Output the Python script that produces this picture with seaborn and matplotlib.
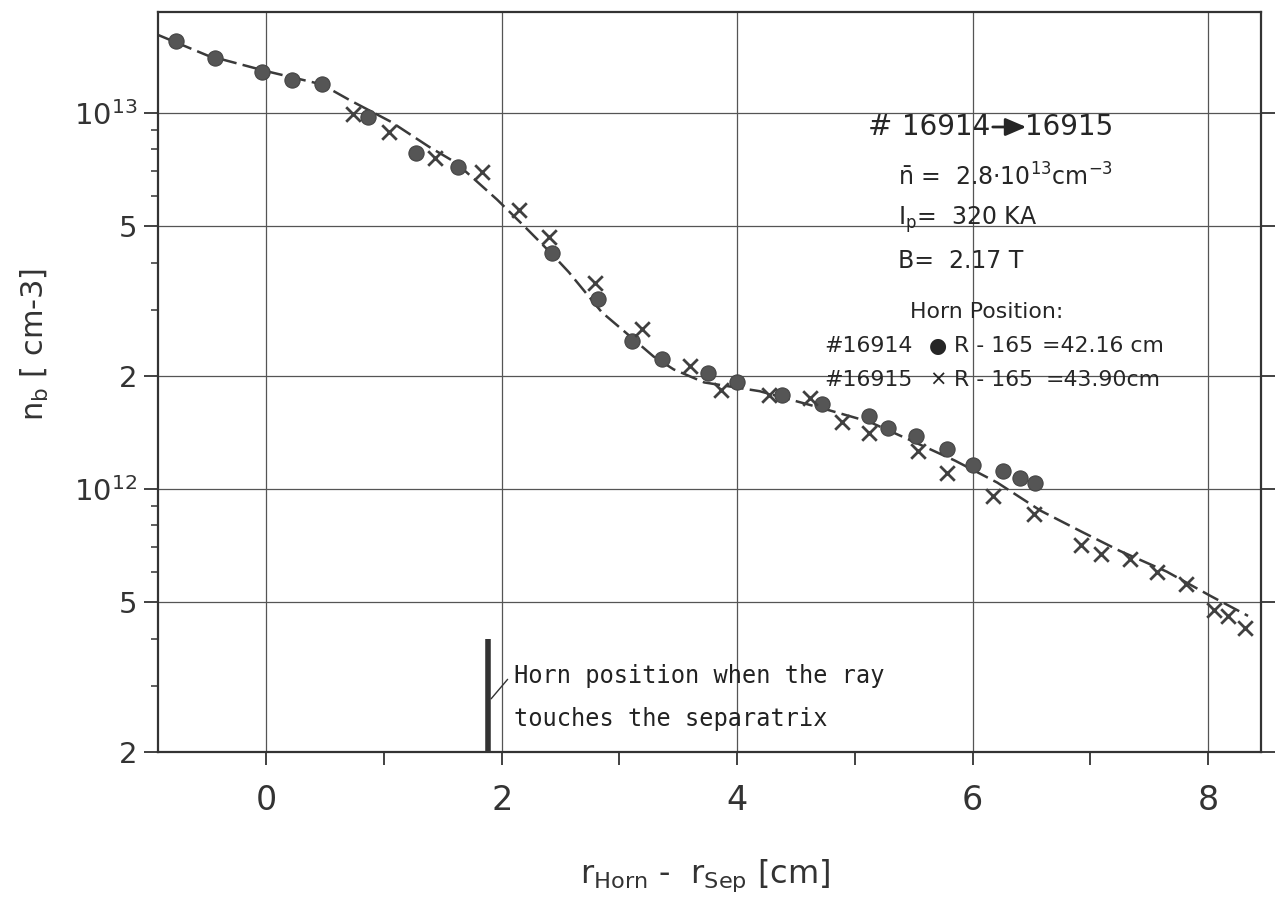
import numpy as np
import pandas as pd
import matplotlib
matplotlib.use("Agg")
import matplotlib.pyplot as plt
import seaborn as sns
from matplotlib import font_manager as fm

# ---- data ----
circle_x = [-0.77, -0.44, -0.04, 0.22, 0.47, 0.86, 1.27, 1.63, 2.43, 2.82, 3.11, 3.36,
            3.75, 4.00, 4.38, 4.72, 5.12, 5.28, 5.52, 5.78, 6.00, 6.26, 6.40, 6.53]
circle_y = [1.55e13, 1.40e13, 1.28e13, 1.22e13, 1.19e13, 9.75e12, 7.83e12, 7.19e12,
            4.23e12, 3.19e12, 2.47e12, 2.22e12, 2.04e12, 1.92e12, 1.78e12, 1.68e12,
            1.56e12, 1.45e12, 1.38e12, 1.28e12, 1.16e12, 1.12e12, 1.07e12, 1.04e12]

cross_x = [0.74, 1.04, 1.43, 1.83, 2.15, 2.40, 2.79, 3.19, 3.60, 3.86, 4.27, 4.62, 4.89,
           5.12, 5.54, 5.78, 6.17, 6.52, 6.92, 7.09, 7.34, 7.57, 7.81, 8.05, 8.17, 8.31]
cross_y = [9.94e12, 8.91e12, 7.60e12, 6.97e12, 5.50e12, 4.69e12, 3.52e12, 2.67e12,
           2.12e12, 1.83e12, 1.78e12, 1.75e12, 1.51e12, 1.41e12, 1.26e12, 1.10e12,
           9.57e11, 8.58e11, 7.10e11, 6.72e11, 6.52e11, 6.02e11, 5.60e11, 4.78e11,
           4.60e11, 4.28e11]

fit_x = [-0.96, -0.5, 0.0, 0.47, 0.71, 1.06, 1.38, 1.61, 1.96, 2.19, 2.43, 2.57, 2.85,
         3.05, 3.29, 3.46, 3.72, 4.19, 4.75, 5.12, 5.49, 5.85, 6.21, 6.58, 6.93, 7.25,
         7.65, 8.02, 8.34]
fit_y = [1.63e13, 1.42e13, 1.29e13, 1.19e13, 1.08e13, 9.46e12, 8.13e12, 7.37e12,
         5.88e12, 5.0e12, 4.2e12, 3.77e12, 2.95e12, 2.61e12, 2.25e12, 2.08e12, 1.92e12,
         1.82e12, 1.63e12, 1.51e12, 1.34e12, 1.19e12, 1.04e12, 8.75e11, 7.69e11,
         6.85e11, 6.03e11, 5.20e11, 4.60e11]

sep_x = 1.88
sep_top = 4.0e11

xticks = [0, 2, 4, 6, 8]
xtick_labels = ["0", "2", "4", "6", "8"]
xminor = [1, 3, 5, 7]
yticks = [2e11, 5e11, 1e12, 2e12, 5e12, 1e13]
ytick_labels = ["2", "5", r"$\mathregular{10^{12}}$", "2", "5", r"$\mathregular{10^{13}}$"]
yminor = [3e11, 4e11, 6e11, 7e11, 8e11, 9e11, 3e12, 4e12, 6e12, 7e12, 8e12, 9e12]

# ---- style ----
sns.set_theme(style="white")
plt.rcParams["font.family"] = ["DejaVu Sans"]
plt.rcParams["mathtext.fontset"] = "dejavusans"

W, H = 1276, 909
fig = plt.figure(figsize=(W / 100, H / 100), dpi=100)
ax = fig.add_axes([158 / W, 1 - 752 / H, (1261 - 158) / W, (752 - 12) / H])
ax.set_yscale("log")

ink = "#3a3a3a"

circ = pd.DataFrame({"x": circle_x, "y": circle_y})
crs = pd.DataFrame({"x": cross_x, "y": cross_y})
fit = pd.DataFrame({"x": fit_x, "y": fit_y})

sns.lineplot(data=fit, x="x", y="y", ax=ax, sort=False, estimator=None,
             color=ink, lw=1.8, linestyle=(0, (7, 2.5)), zorder=2)
sns.scatterplot(data=circ, x="x", y="y", ax=ax, marker="o", s=120,
                color="#555555", edgecolor="#444444", linewidth=0.8, zorder=3)
sns.scatterplot(data=crs, x="x", y="y", ax=ax, marker="x", s=110,
                color="#404040", linewidth=2.0, zorder=3)

# separatrix marker
ax.vlines(sep_x, 2e11, sep_top, color="#333333", lw=4, zorder=3)
ax.plot([sep_x + 0.03, sep_x + 0.17], [2.77e11, 3.12e11], color="#333333", lw=1)
ax.text(2.10, 2.80e11, "Horn position when the ray\ntouches the separatrix",
        family="DejaVu Sans Mono", fontsize=17, color="#222222",
        ha="left", va="center", linespacing=2.0)

ax.set_xlim(-0.92, 8.45)
ax.set_ylim(2e11, 1.853e13)

ax.set_xticks(xticks)
ax.set_xticklabels(xtick_labels, fontsize=24, color="#333333")
ax.set_xticks(xminor, minor=True)
ax.set_yticks(yticks)
ax.set_yticklabels(ytick_labels, fontsize=21, color="#333333")
ax.set_yticks(yminor, minor=True)
ax.yaxis.set_minor_formatter(matplotlib.ticker.NullFormatter())

ax.tick_params(axis="x", which="both", direction="out", length=9, width=1.3,
               color="#333333", pad=14, bottom=True)
ax.tick_params(axis="y", which="major", direction="out", length=10, width=1.3,
               color="#333333", pad=5, left=True, right=True)
ax.tick_params(axis="y", which="minor", direction="out", length=5, width=1.1,
               color="#333333", left=True)

ax.grid(which="major", color="#555555", lw=0.9)
for s in ax.spines.values():
    s.set_visible(True)
    s.set_color("#333333")
    s.set_linewidth(1.6)

ax.set_xlabel(r"r$_{\mathregular{Horn}}$ -  r$_{\mathregular{Sep}}$ [cm]",
              fontsize=23, color="#333333")
ax.xaxis.set_label_coords((705 - 158) / 1102, (752 - 858) / 740)
ax.set_ylabel(r"n$_{\mathregular{b}}$ [ cm-3]", fontsize=22, color="#333333")
ax.yaxis.label.set_va("center")
ax.yaxis.set_label_coords((35 - 158) / 1102, (752 - 345) / 740)

def P(x, y):
    return x / W, 1 - y / H

tc = "#262626"
fs = 15.8
fig.text(*P(868, 127), "#", fontsize=21, color=tc, ha="left", va="center")
fig.text(*P(946, 127), "16914", fontsize=20, color=tc, ha="center", va="center")
fig.text(*P(1069, 127), "16915", fontsize=20, color=tc, ha="center", va="center")
fig.add_artist(matplotlib.patches.FancyArrowPatch(
    P(990, 127), P(1029, 127), transform=fig.transFigure,
    arrowstyle="-|>,head_length=0.7,head_width=0.3", mutation_scale=18,
    color=tc, lw=2))
fig.text(*P(898, 177), r"$\bar{\mathregular{n}}$ =  2.8$\cdot$10$^{13}$cm$^{-3}$",
         fontsize=17, color=tc, ha="left", va="center")
fig.text(*P(898, 220), r"I$_{\mathregular{p}}$=  320 KA", fontsize=17, color=tc,
         ha="left", va="center")
fig.text(*P(898, 261), "B=  2.17 T", fontsize=17, color=tc, ha="left", va="center")
fig.text(*P(910, 312), "Horn Position:", fontsize=fs, color=tc, ha="left", va="center")
for yy, shot, sym, val in [(346, "#16914", "\u25cf", "=42.16 cm"),
                           (380, "#16915", "\u00d7", "=43.90cm")]:
    fig.text(*P(868, yy), shot, fontsize=fs, color=tc, ha="center", va="center")
    fig.text(*P(938, yy), sym, fontsize=15, color=tc, ha="center", va="center")
    fig.text(*P(993, yy), "R - 165", fontsize=fs, color=tc, ha="center", va="center")
    fig.text(*P(1103, yy), val, fontsize=fs, color=tc, ha="center", va="center")

fig.savefig("out.png", dpi=100, facecolor="white")
